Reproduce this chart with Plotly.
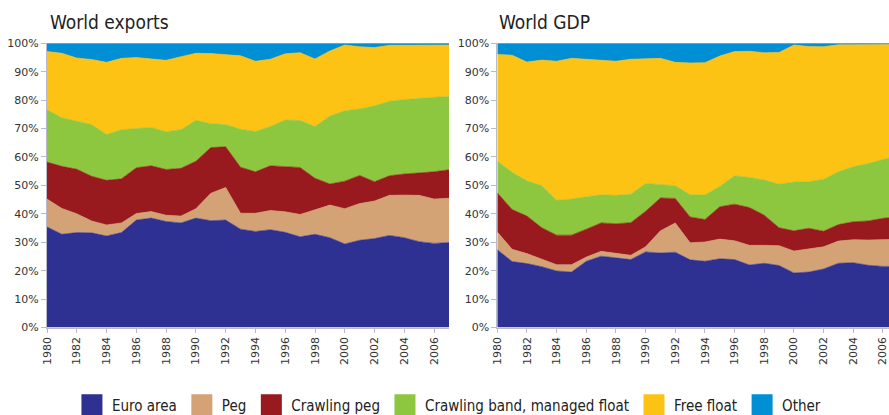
import plotly.graph_objects as go

years = list(range(1980, 2008))
categories = ["Euro area", "Peg", "Crawling peg", "Crawling band, managed float", "Free float", "Other"]
colors = ["#2E3192", "#D4A375", "#981A1F", "#8DC63F", "#FDC314", "#008FD5"]

# World exports shares (%)
exp_euro  = [35.4, 32.8, 33.4, 33.3, 32.2, 33.4, 37.8, 38.5, 37.3, 36.8, 38.5, 37.6, 37.8, 34.6, 33.8, 34.4, 33.5, 31.9, 32.8, 31.6, 29.4, 30.7, 31.3, 32.4, 31.6, 30.2, 29.6, 29.9]
exp_peg   = [9.8, 9.1, 6.6, 4.2, 3.9, 3.4, 2.3, 2.3, 2.2, 2.4, 3.3, 9.6, 11.5, 5.6, 6.4, 6.8, 7.2, 7.9, 8.6, 11.5, 12.4, 12.9, 13.2, 14.1, 15.0, 16.3, 15.6, 15.6]
exp_crawl = [13.0, 14.8, 15.7, 15.7, 15.7, 15.5, 16.1, 16.1, 16.1, 16.8, 16.7, 16.1, 14.3, 16.2, 14.6, 15.7, 15.9, 16.5, 11.1, 7.4, 9.7, 9.9, 6.8, 6.9, 7.4, 7.8, 9.6, 10.0]
exp_band  = [18.4, 17.1, 16.9, 18.2, 16.1, 17.3, 13.8, 13.5, 13.3, 13.6, 14.4, 8.4, 7.8, 13.4, 14.2, 13.8, 16.4, 16.5, 18.2, 23.9, 24.8, 23.4, 26.7, 26.2, 26.2, 26.4, 26.2, 25.8]
exp_free  = [20.5, 22.7, 22.2, 22.9, 25.4, 25.1, 25.0, 24.1, 25.1, 25.7, 23.6, 24.7, 24.7, 25.8, 24.7, 23.7, 23.3, 23.9, 23.8, 22.9, 23.1, 21.9, 20.5, 19.7, 19.1, 18.6, 18.4, 18.1]
exp_other = [2.9, 3.5, 5.2, 5.7, 6.7, 5.3, 5.0, 5.5, 6.0, 4.7, 3.5, 3.6, 3.9, 4.4, 6.3, 5.6, 3.7, 3.3, 5.5, 2.7, 0.6, 1.2, 1.5, 0.7, 0.7, 0.7, 0.6, 0.6]

# World GDP shares (%)
gdp_euro  = [27.4, 23.2, 22.5, 21.4, 19.9, 19.5, 23.3, 25.1, 24.5, 23.9, 26.6, 26.2, 26.5, 23.8, 23.3, 24.2, 23.9, 22.0, 22.6, 21.8, 19.2, 19.5, 20.6, 22.6, 22.8, 21.9, 21.5, 21.5]
gdp_peg   = [6.2, 4.3, 3.5, 2.6, 2.2, 2.6, 1.5, 1.7, 1.7, 1.5, 1.8, 7.8, 10.3, 6.0, 6.8, 6.9, 6.6, 6.9, 6.3, 7.0, 7.7, 8.1, 7.8, 7.8, 8.1, 8.9, 9.3, 9.5]
gdp_crawl = [13.8, 14.0, 13.2, 11.1, 10.4, 10.4, 9.8, 10.0, 10.3, 11.5, 12.5, 11.6, 8.6, 9.1, 7.9, 11.4, 12.9, 13.3, 10.6, 6.3, 7.1, 7.3, 5.5, 5.8, 6.3, 6.7, 7.6, 8.0]
gdp_band  = [11.1, 13.1, 12.4, 14.8, 12.3, 12.7, 11.4, 9.9, 10.0, 10.0, 9.8, 4.6, 4.5, 7.8, 8.6, 7.1, 10.0, 10.6, 12.4, 15.3, 17.2, 16.4, 18.3, 18.6, 19.4, 20.2, 20.8, 21.5]
gdp_free  = [37.6, 41.2, 41.8, 44.2, 48.9, 49.5, 48.4, 47.3, 47.2, 47.5, 43.9, 44.5, 43.4, 46.4, 46.6, 45.9, 43.7, 44.4, 44.8, 46.4, 48.2, 47.6, 46.6, 44.7, 42.9, 41.8, 40.3, 39.1]
gdp_other = [3.9, 4.2, 6.6, 5.9, 6.3, 5.3, 5.6, 6.0, 6.3, 5.6, 5.4, 5.3, 6.7, 6.9, 6.8, 4.5, 2.9, 2.8, 3.3, 3.2, 0.6, 1.1, 1.2, 0.5, 0.5, 0.5, 0.5, 0.4]

panel_titles = ["World exports", "World GDP"]
x_ticks = list(range(1980, 2007, 2))
y_ticks = list(range(0, 101, 10))

exports = [exp_euro, exp_peg, exp_crawl, exp_band, exp_free, exp_other]
gdp = [gdp_euro, gdp_peg, gdp_crawl, gdp_band, gdp_free, gdp_other]

W, H = 889, 415
fig = go.Figure()

for panel, (series, xa, ya) in enumerate([(exports, "x", "y"), (gdp, "x2", "y2")]):
    for name, vals, col in zip(categories, series, colors):
        fig.add_trace(go.Scatter(
            x=years, y=vals, name=name, xaxis=xa, yaxis=ya,
            mode="lines", line=dict(width=0.6, color=col),
            fillcolor=col, stackgroup="s%d" % panel,
            showlegend=False, hoverinfo="x+y+name",
        ))

# legend entries
for name, col in zip(categories, colors):
    fig.add_trace(go.Scatter(
        x=[None], y=[None], name=name, mode="markers",
        marker=dict(symbol="square", size=16, color=col, line=dict(width=5, color=col)),
        showlegend=True,
    ))

narrow = "Liberation Sans Narrow, DejaVu Sans Condensed, Arial Narrow, sans-serif"
tickfont = dict(family="DejaVu Sans", size=11, color="#333333")
axcol = "#B9BBCB"
ydom = [(H - 327.5) / H, (H - 43.3) / H]

common_x = dict(
    tickmode="array", tickvals=x_ticks, ticktext=[str(v) for v in x_ticks],
    tickangle=-90, tickfont=tickfont, showgrid=False, zeroline=False,
    showline=True, linecolor=axcol, linewidth=1, ticks="outside", ticklen=4,
    tickcolor=axcol, automargin=False, ticklabeloverflow="allow",
)
common_y = dict(
    range=[0, 100], tickmode="array", tickvals=y_ticks,
    ticktext=["%d%%" % v for v in y_ticks], tickfont=tickfont,
    showgrid=False, zeroline=False, showline=True, linecolor=axcol, linewidth=1,
    ticks="outside", ticklen=5, tickcolor=axcol, domain=ydom, automargin=False,
)

fig.update_layout(
    width=W, height=H,
    margin=dict(l=0, r=0, t=0, b=0, autoexpand=False),
    paper_bgcolor="white", plot_bgcolor="white",
    xaxis=dict(common_x, domain=[47 / W, 449 / W], range=[1980, 2007], anchor="y"),
    yaxis=dict(common_y, anchor="x"),
    xaxis2=dict(common_x, domain=[497.3 / W, 1.0], range=[1980, 2006.41], anchor="y2"),
    yaxis2=dict(common_y, anchor="x2"),
    legend=dict(
        orientation="h", traceorder="normal",
        x=0.505, xanchor="center", y=(H - 405) / H, yanchor="middle",
        font=dict(family=narrow, size=15, color="#222222"),
        bgcolor="rgba(0,0,0,0)", borderwidth=0, itemclick=False,
    ),
    annotations=[
        dict(text=panel_titles[0], x=48 / W, y=(H - 22) / H, xref="paper", yref="paper",
             xanchor="left", yanchor="middle", showarrow=False,
             font=dict(family=narrow, size=19, color="#222222")),
        dict(text=panel_titles[1], x=497 / W, y=(H - 22) / H, xref="paper", yref="paper",
             xanchor="left", yanchor="middle", showarrow=False,
             font=dict(family=narrow, size=19, color="#222222")),
    ],
)

fig.write_html(
    "out.html",
    config={"displayModeBar": False},
    post_script="document.body.style.margin='0';document.body.style.overflow='hidden';",
)
